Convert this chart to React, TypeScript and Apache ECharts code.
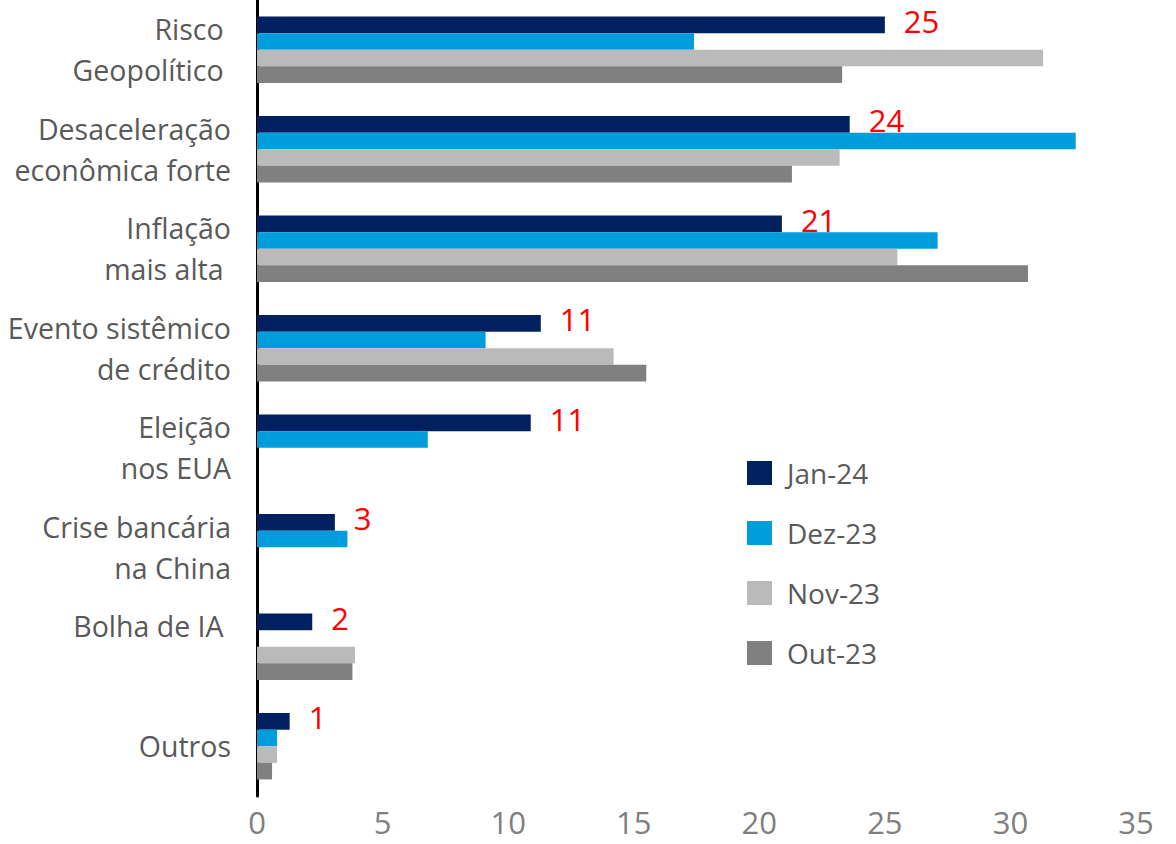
import React, { useEffect, useRef } from "react";
import * as echarts from "echarts";

const categories = [
  "Risco \nGeopolítico ",
  "Desaceleração\neconômica forte",
  "Inflação\nmais alta ",
  "Evento sistêmico\nde crédito",
  "Eleição\nnos EUA",
  "Crise bancária\nna China",
  "Bolha de IA \n ",
  "Outros",
];

const seriesNames = ["Jan-24", "Dez-23", "Nov-23", "Out-23"];

const jan24 = [25.0, 23.6, 20.9, 11.3, 10.9, 3.1, 2.2, 1.3];
const dez23 = [17.4, 32.6, 27.1, 9.1, 6.8, 3.6, null, 0.8];
const nov23 = [31.3, 23.2, 25.5, 14.2, null, null, 3.9, 0.8];
const out23 = [23.3, 21.3, 30.7, 15.5, null, null, 3.8, 0.6];

const xTicks = [0, 5, 10, 15, 20, 25, 30, 35];

const colors = ["#002060", "#009DDC", "#BABABA", "#808080"];

const FONT = "'Open Sans', 'Noto Sans', sans-serif";

export default function App() {
  const ref = useRef<HTMLDivElement>(null);

  useEffect(() => {
    if (!ref.current) return;
    const chart = echarts.init(ref.current, null, { renderer: "svg" });
    const allData = [jan24, dez23, nov23, out23];
    chart.setOption({
      animation: false,
      backgroundColor: "#ffffff",
      textStyle: { fontFamily: FONT },
      grid: {
        left: 257,
        top: 0,
        width: 879,
        height: 796,
        containLabel: false,
        outerBoundsMode: "none",
      },
      legend: {
        show: true,
        orient: "vertical",
        left: 742,
        top: 454,
        itemWidth: 25,
        itemHeight: 24,
        itemGap: 32,
        icon: "rect",
        data: seriesNames,
        textStyle: {
          color: "#595959",
          fontSize: 28,
          fontFamily: FONT,
          padding: [0, 0, 0, 10],
        },
      },
      xAxis: {
        type: "value",
        min: xTicks[0],
        max: xTicks[xTicks.length - 1],
        interval: 5,
        axisLine: { show: false },
        axisTick: { show: false },
        splitLine: { show: false },
        axisLabel: {
          color: "#7F7F7F",
          fontSize: 31,
          lineHeight: 31,
          fontFamily: FONT,
          margin: 10,
        },
      },
      yAxis: {
        type: "category",
        inverse: true,
        data: categories,
        axisLine: { show: true, lineStyle: { color: "#000000", width: 3 } },
        axisTick: { show: false },
        splitLine: { show: false },
        axisLabel: {
          color: "#595959",
          fontSize: 28.5,
          lineHeight: 41,
          fontFamily: FONT,
          margin: 26,
          align: "right",
        },
      },
      series: allData.map((d, i) => ({
        name: seriesNames[i],
        type: "bar",
        data: d,
        barWidth: 16.6,
        barGap: "0%",
        itemStyle: { color: colors[i] },
        label:
          i === 0
            ? {
                show: true,
                position: "right",
                distance: 19,
                offset: [0, -4],
                color: "#FF0000",
                fontSize: 31,
                fontFamily: FONT,
                formatter: (p: any) => String(Math.round(p.value)),
              }
            : { show: false },
      })),
    });
    return () => chart.dispose();
  }, []);

  return (
    <div
      ref={ref}
      style={{ position: "absolute", left: 0, top: 0, width: 1176, height: 844 }}
    />
  );
}
